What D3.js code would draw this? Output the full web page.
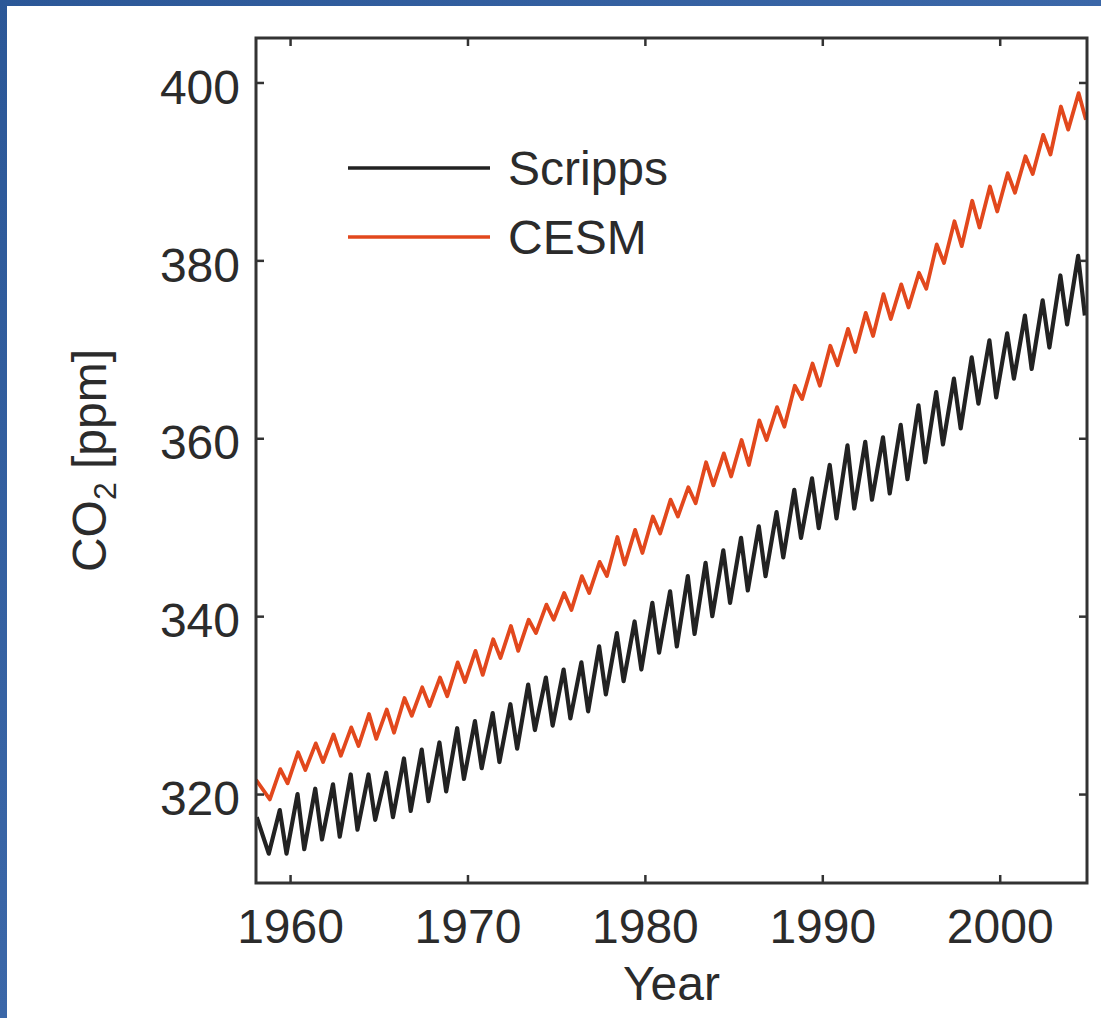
<!DOCTYPE html>
<html lang="en">
<head>
	<meta charset="UTF-8">
	<title>CO2 Scripps vs CESM</title>
	<style>
		body { margin: 0; background: #fff; }
		svg text { font-family: "Liberation Sans", Arial, Helvetica, sans-serif; fill: #2b2b2b; }
	</style>
</head>
<body>
	<script src="https://cdn.jsdelivr.net/npm/d3@7"></script>
	<script>
		// years of the record
		var years = [1958, 1959, 1960, 1961, 1962, 1963, 1964, 1965, 1966, 1967,
			1968, 1969, 1970, 1971, 1972, 1973, 1974, 1975, 1976, 1977,
			1978, 1979, 1980, 1981, 1982, 1983, 1984, 1985, 1986, 1987,
			1988, 1989, 1990, 1991, 1992, 1993, 1994, 1995, 1996, 1997,
			1998, 1999, 2000, 2001, 2002, 2003, 2004];

		// Scripps (Mauna Loa): spring maximum and autumn minimum of each year, ppm
		var scrippsMax = [null, 318.2, 320.0, 320.6, 321.1, 322.2, 322.2, 322.4, 324.0, 325.0,
			325.8, 327.4, 328.2, 329.1, 330.1, 332.3, 333.1, 334.0, 334.8, 336.6,
			338.1, 339.4, 341.5, 342.8, 344.5, 346.0, 347.4, 348.8, 350.1, 351.7,
			354.2, 355.5, 357.0, 359.2, 359.6, 360.1, 361.5, 363.7, 365.2, 366.7,
			369.1, 371.0, 371.8, 373.8, 375.5, 378.3, 380.5];
		var scrippsMin = [313.3, 313.3, 313.8, 314.9, 315.2, 316.0, 317.1, 317.4, 318.1, 319.2,
			320.3, 321.7, 322.9, 323.6, 325.1, 327.2, 327.7, 328.5, 329.3, 331.2,
			332.7, 334.0, 335.9, 336.6, 338.0, 340.0, 341.5, 342.9, 344.5, 346.6,
			348.8, 349.9, 351.0, 352.1, 353.1, 353.8, 355.4, 357.3, 359.3, 361.1,
			363.9, 364.6, 366.7, 367.8, 370.2, 372.8, 373.8];
		var scrippsStart = [1958.12, 317.4];

		// CESM model
		var cesmMax = [null, 322.8, 324.7, 325.7, 326.7, 327.5, 329.0, 329.5, 330.8, 332.0,
			333.1, 334.8, 336.1, 337.4, 338.9, 339.6, 341.3, 342.6, 344.5, 346.1,
			348.9, 349.7, 351.2, 353.1, 354.5, 357.3, 358.3, 359.8, 362.0, 363.5,
			365.9, 368.4, 370.4, 372.3, 374.1, 376.2, 377.3, 378.6, 381.8, 384.4,
			386.7, 388.3, 389.8, 391.7, 394.1, 397.3, 398.8];
		var cesmMin = [319.4, 321.2, 322.7, 323.6, 324.3, 325.4, 326.2, 326.9, 328.8, 329.9,
			331.0, 332.6, 333.4, 335.3, 336.1, 338.1, 339.6, 340.7, 342.6, 344.5,
			345.8, 347.1, 349.3, 351.2, 352.7, 354.7, 355.7, 357.0, 359.8, 361.3,
			364.4, 365.9, 368.2, 369.7, 371.5, 373.4, 374.7, 376.8, 379.7, 381.6,
			383.7, 385.5, 387.6, 389.7, 391.9, 394.7, 395.8];
		var cesmStart = [1958.08, 321.6];

		// time of year of the max / min (fraction of year)
		var scrippsPhase = [0.42, 0.80],
			cesmPhase = [0.45, 0.86];

		var xTicks = [1960, 1970, 1980, 1990, 2000],
			yTicks = [320, 340, 360, 380, 400];

		var width = 1101,
			height = 1018,
			plotLeft = 256,
			plotRight = 1087,
			plotTop = 38,
			plotBottom = 883;

		var x = d3.scaleLinear()
				.domain([1958.08, 2004.92])
				.range([plotLeft, plotRight]),
			y = d3.scaleLinear()
				.domain([310, 405])
				.range([plotBottom, plotTop]);

		function buildSeries(start, maxs, mins, phase) {
			var pts = [{t: start[0], v: start[1]}];
			years.forEach(function(yr, i) {
				if (maxs[i] != null) pts.push({t: yr + phase[0], v: maxs[i]});
				if (mins[i] != null) pts.push({t: yr + phase[1], v: mins[i]});
			});
			return pts;
		}

		var series = [
			{name: "Scripps", color: "#222222", width: 4.2, pts: buildSeries(scrippsStart, scrippsMax, scrippsMin, scrippsPhase)},
			{name: "CESM", color: "#e2481d", width: 3.8, pts: buildSeries(cesmStart, cesmMax, cesmMin, cesmPhase)}
		];

		var svg = d3.select("body").append("svg")
			.attr("width", width)
			.attr("height", height);

		// blue slide frame
		var defs = svg.append("defs");
		var grad = defs.append("linearGradient")
			.attr("id", "frame")
			.attr("x1", "0").attr("y1", "0").attr("x2", "1").attr("y2", "1");
		grad.append("stop").attr("offset", "0").attr("stop-color", "#2b5797");
		grad.append("stop").attr("offset", "0.5").attr("stop-color", "#3b67a8");
		grad.append("stop").attr("offset", "1").attr("stop-color", "#1d4a8a");
		defs.append("clipPath").attr("id", "plotclip")
			.append("rect")
			.attr("x", plotLeft).attr("y", plotTop)
			.attr("width", plotRight - plotLeft).attr("height", plotBottom - plotTop);

		svg.append("rect")
			.attr("width", width).attr("height", height)
			.attr("fill", "url(#frame)");
		svg.append("rect")
			.attr("x", 7).attr("y", 6)
			.attr("width", width - 7).attr("height", height - 6)
			.attr("fill", "#ffffff");

		var line = d3.line()
			.x(function(d) { return x(d.t); })
			.y(function(d) { return y(d.v); });

		svg.append("g")
			.attr("clip-path", "url(#plotclip)")
			.selectAll("path.line")
			.data(series)
			.enter()
			.append("path")
			.attr("class", "line")
			.attr("d", function(d) { return line(d.pts); })
			.attr("fill", "none")
			.attr("stroke", function(d) { return d.color; })
			.attr("stroke-width", function(d) { return d.width; })
			.attr("stroke-linejoin", "round");

		// axes, MATLAB style ticks pointing inward
		var xAxis = d3.axisBottom(x).tickValues(xTicks).tickFormat(d3.format("d"))
			.tickSizeInner(-8).tickSizeOuter(0).tickPadding(26);
		var xTop = d3.axisTop(x).tickValues(xTicks).tickFormat("")
			.tickSizeInner(-8).tickSizeOuter(0);
		var yAxis = d3.axisLeft(y).tickValues(yTicks).tickFormat(d3.format("d"))
			.tickSizeInner(-8).tickSizeOuter(0).tickPadding(16);
		var yRight = d3.axisRight(y).tickValues(yTicks).tickFormat("")
			.tickSizeInner(-8).tickSizeOuter(0);

		function styleAxis(g) {
			g.select(".domain").remove();
			g.selectAll(".tick line").attr("stroke", "#333").attr("stroke-width", 2.5);
			g.selectAll(".tick text").attr("font-size", 48).attr("fill", "#2b2b2b");
		}

		svg.append("g").attr("transform", "translate(0," + plotBottom + ")").call(xAxis).call(styleAxis);
		svg.append("g").attr("transform", "translate(0," + plotTop + ")").call(xTop).call(styleAxis);
		svg.append("g").attr("transform", "translate(" + plotLeft + ",0)").call(yAxis).call(styleAxis)
			.selectAll(".tick text").attr("dy", "0.43em");
		svg.append("g").attr("transform", "translate(" + plotRight + ",0)").call(yRight).call(styleAxis);

		svg.append("rect")
			.attr("x", plotLeft).attr("y", plotTop)
			.attr("width", plotRight - plotLeft).attr("height", plotBottom - plotTop)
			.attr("fill", "none")
			.attr("stroke", "#333")
			.attr("stroke-width", 3);

		// axis titles
		svg.append("text")
			.attr("x", (plotLeft + plotRight) / 2)
			.attr("y", 1000)
			.attr("text-anchor", "middle")
			.attr("font-size", 48)
			.text("Year");

		var ylab = svg.append("text")
			.attr("transform", "translate(106," + (plotTop + plotBottom) / 2 + ") rotate(-90)")
			.attr("text-anchor", "middle")
			.attr("font-size", 48);
		ylab.append("tspan").text("CO");
		ylab.append("tspan").attr("font-size", 32).attr("dy", 10).text("2");
		ylab.append("tspan").attr("dy", -10).text(" [ppm]");

		// legend
		var legend = svg.append("g").selectAll("g")
			.data(series)
			.enter()
			.append("g")
			.attr("transform", function(d, i) { return "translate(0," + (168 + i * 69) + ")"; });
		legend.append("line")
			.attr("x1", 348).attr("x2", 490)
			.attr("stroke", function(d) { return d.color; })
			.attr("stroke-width", 3.4);
		legend.append("text")
			.attr("x", 508)
			.attr("y", 17)
			.attr("font-size", 48)
			.text(function(d) { return d.name; });
</script>
</body>
</html>
